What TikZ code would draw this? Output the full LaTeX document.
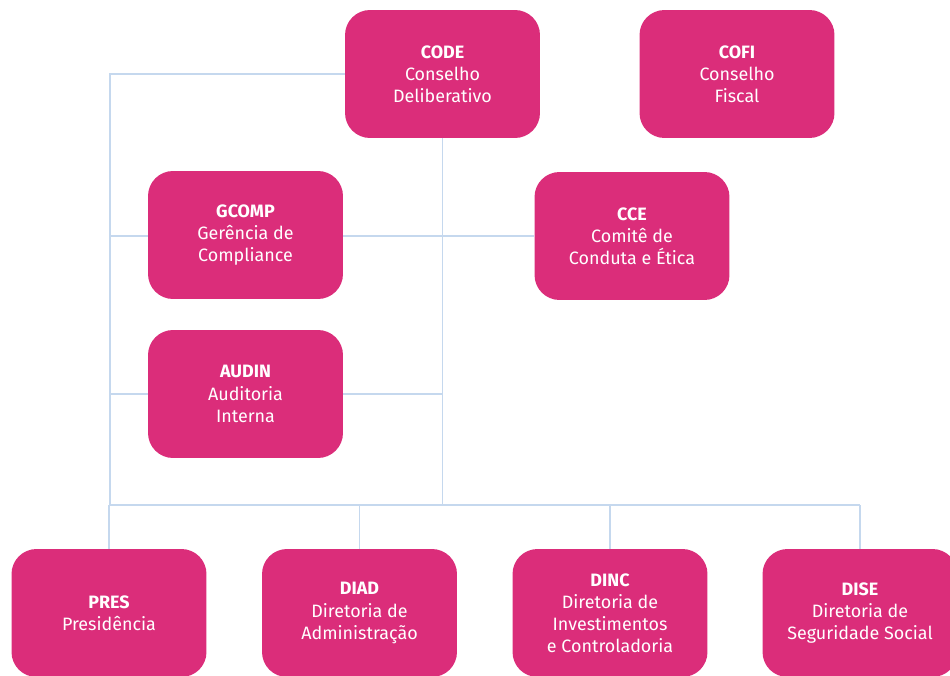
\documentclass[tikz,border=0pt]{standalone}
\usepackage{fontspec}
\setmainfont{Fira Sans}
\usetikzlibrary{positioning}
\definecolor{boxpink}{HTML}{DB2D7A}
\definecolor{linkblue}{HTML}{C5D8EE}
\pgfdeclarelayer{background}
\pgfsetlayers{background,main}
\tikzset{
  unit/.style={fill=boxpink, text=white, rounded corners=0.5cm, minimum width=3.9cm,
    minimum height=2.56cm, align=center, inner sep=0pt,
    font=\fontsize{10.2}{12.6}\selectfont},
  link/.style={draw=linkblue, line width=1.1pt}
}
\begin{document}
\begin{tikzpicture}[x=0.02cm, y=-0.02cm]
	\useasboundingbox (0,0) rectangle (950,676);
	% conselhos
	\node [unit] (code) at (442.5,74) {\textbf{CODE}\\Conselho\\Deliberativo};
	\node [unit] (cofi) at (737,74) {\textbf{COFI}\\Conselho\\Fiscal};
	% staff
	\node [unit] (gcomp) at (245.5,235) {\textbf{GCOMP}\\Gerência de\\Compliance};
	\node [unit] (cce) at (632,236) {\textbf{CCE}\\Comitê de\\Conduta e Ética};
	\node [unit] (audin) at (245.5,394) {\textbf{AUDIN}\\Auditoria\\Interna};
	% diretorias
	\node [unit] (pres) at (109,613) {\textbf{PRES}\\Presidência};
	\node [unit] (diad) at (359.5,613) {\textbf{DIAD}\\Diretoria de\\Administração};
	\node [unit] (dinc) at (610,613) {\textbf{DINC}\\Diretoria de\\Investimentos\\e Controladoria};
	\node [unit] (dise) at (860,613) {\textbf{DISE}\\Diretoria de\\Seguridade Social};
	\coordinate (bus) at (110,505);
	\begin{pgfonlayer}{background}
		\draw [link] (code.west) -| (bus);
		\draw [link] (code.south) -- (code.south |- bus);
		\draw [link] (bus |- cce.west) -- (cce.west);
		\draw [link] (bus |- audin.west) -- (code.south |- audin.west);
		\draw [link] (bus) -- (bus -| dise.north);
		\foreach \d in {pres,diad,dinc,dise}
			\draw [link] (\d.north |- bus) -- (\d.north);
	\end{pgfonlayer}
\end{tikzpicture}
\end{document}
